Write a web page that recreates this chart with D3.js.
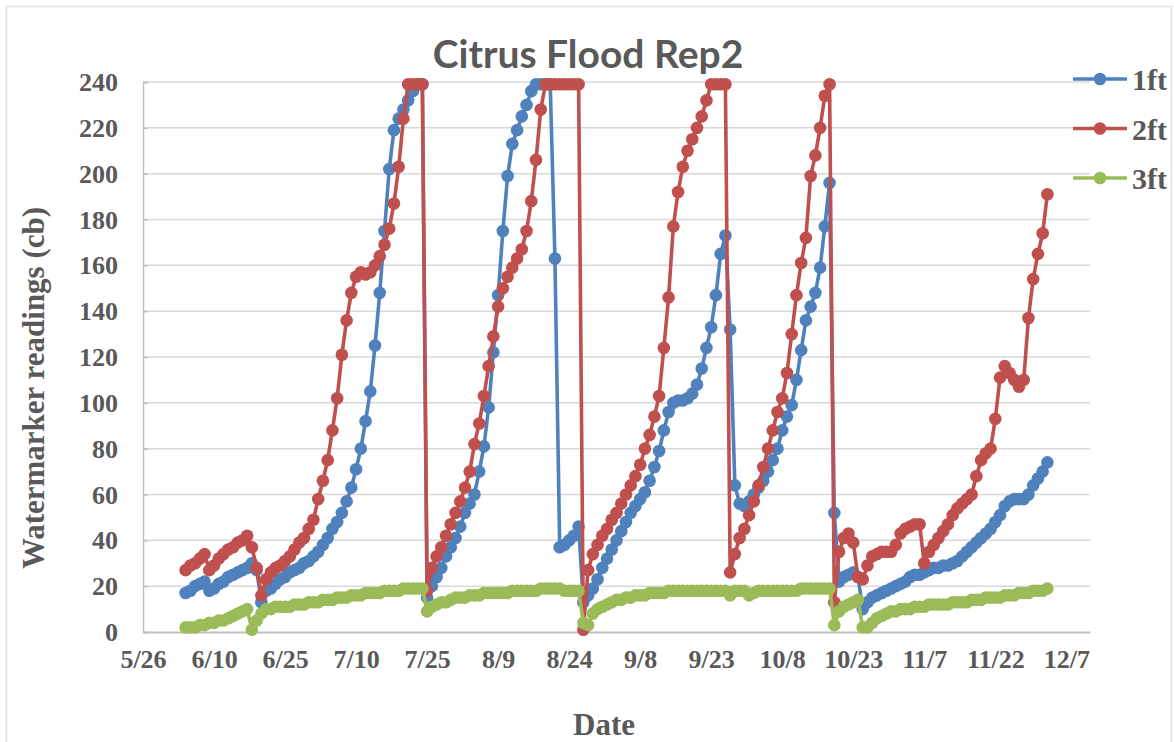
<!DOCTYPE html>
<html>
<head>
<meta charset="utf-8">
<script src="https://cdn.jsdelivr.net/npm/d3@7"></script>
<style>
  body { margin: 0; padding: 0; background: white; }
</style>
</head>
<body>
<div id="myVis"></div>
<script>
const width = 1174;
const height = 742;

// readings are daily, first reading on 6/4
const firstDay = new Date(2019, 5, 4);
const axisStart = new Date(2019, 4, 26);
const axisEnd = new Date(2019, 11, 12);
const seriesNames = ["1ft", "2ft", "3ft"];
const seriesColors = ["#4f81bd", "#c0504d", "#9bbb59"];
const yTicks = [0, 20, 40, 60, 80, 100, 120, 140, 160, 180, 200, 220, 240];

const ft1 = [
  17, 18, 20, 21, 22, 18, 19, 21, 22, 24,
  25, 26, 27, 28, 30, 27, 13, 18, 19, 21,
  23, 24, 26, 27, 28, 30, 31, 33, 35, 38,
  41, 45, 48, 52, 57, 63, 71, 80, 92, 105,
  125, 148, 175, 202, 219, 224, 228, 232, 236, 239,
  239, 15, 20, 24, 28, 33, 37, 41, 46, 52,
  56, 60, 70, 81, 98, 122, 147, 175, 199, 213,
  219, 225, 230, 236, 239, 239, 239, 239, 163, 37,
  38, 40, 42, 46, 13, 16, 19, 23, 28, 32,
  36, 40, 44, 48, 52, 55, 58, 61, 66, 72,
  79, 88, 96, 100, 101, 101, 102, 104, 108, 115,
  124, 133, 147, 165, 173, 132, 64, 56, 55, 57,
  60, 63, 66, 70, 75, 80, 88, 94, 99, 110,
  123, 136, 142, 148, 159, 177, 196, 52, 22, 24,
  25, 26, 24, 10, 13, 15, 16, 17, 18, 19,
  20, 21, 22, 24, 25, 25, 26, 27, 28, 28,
  29, 29, 30, 31, 33, 35, 37, 39, 41, 43,
  45, 48, 51, 55, 57, 58, 58, 58, 60, 64,
  67, 70, 74
];

const ft2 = [
  27, 29, 30, 32, 34, 27, 29, 32, 34, 36,
  37, 39, 40, 42, 37, 28, 16, 23, 26, 28,
  29, 31, 33, 36, 39, 41, 45, 49, 58, 66,
  75, 88, 102, 121, 136, 148, 155, 157, 156, 157,
  160, 164, 169, 176, 187, 203, 224, 239, 239, 239,
  239, 18, 28, 33, 37, 42, 47, 52, 57, 63,
  70, 82, 91, 103, 116, 129, 142, 150, 155, 159,
  163, 167, 175, 188, 206, 228, 239, 239, 239, 239,
  239, 239, 239, 239, 1, 27, 34, 38, 42, 45,
  49, 52, 56, 60, 64, 68, 73, 80, 86, 94,
  103, 124, 146, 177, 192, 203, 210, 215, 220, 225,
  232, 239, 239, 239, 239, 26, 34, 41, 45, 51,
  57, 64, 72, 80, 88, 96, 102, 113, 130, 147,
  161, 172, 199, 208, 220, 234, 239, 13, 35, 41,
  43, 39, 24, 23, 29, 33, 34, 35, 35, 35,
  38, 43, 45, 46, 47, 47, 30, 35, 38, 41,
  44, 47, 51, 54, 56, 58, 60, 68, 75, 78,
  80, 93, 111, 116, 113, 110, 107, 110, 137, 154,
  165, 174, 191
];

const ft3 = [
  2, 2, 2, 3, 3, 4, 4, 5, 5, 6,
  7, 8, 9, 10, 1, 5, 8, 10, 10, 11,
  11, 11, 11, 12, 12, 12, 13, 13, 13, 14,
  14, 14, 15, 15, 15, 16, 16, 16, 17, 17,
  17, 17, 18, 18, 18, 18, 19, 19, 19, 19,
  19, 9, 11, 12, 13, 13, 14, 15, 15, 15,
  16, 16, 16, 17, 17, 17, 17, 17, 17, 18,
  18, 18, 18, 18, 18, 19, 19, 19, 19, 19,
  18, 18, 18, 18, 4, 3, 8, 10, 11, 12,
  13, 14, 14, 15, 15, 16, 16, 16, 17, 17,
  17, 17, 18, 18, 18, 18, 18, 18, 18, 18,
  18, 18, 18, 18, 18, 16, 18, 18, 18, 16,
  17, 18, 18, 18, 18, 18, 18, 18, 18, 18,
  19, 19, 19, 19, 19, 19, 19, 3, 9, 11,
  12, 13, 14, 2, 2, 4, 6, 7, 8, 9,
  9, 10, 10, 10, 11, 11, 11, 12, 12, 12,
  12, 12, 13, 13, 13, 13, 14, 14, 14, 15,
  15, 15, 15, 16, 16, 16, 17, 17, 17, 18,
  18, 18, 19
];

const allSeries = [ft1, ft2, ft3];

const margin = { left: 143, right: 1090, top: 82, bottom: 632 };
const serif = "'Liberation Serif', 'Times New Roman', serif";
const markerRadius = 6.3;
const lineWidth = 3.6;

const svg = d3
  .select("#myVis")
  .append("svg")
  .attr("width", width)
  .attr("height", height)
  .style("background-color", "white");

// chart border
svg.append("rect")
  .attr("x", 6.5)
  .attr("y", 6.5)
  .attr("width", width - 9)
  .attr("height", height + 10)
  .attr("fill", "none")
  .attr("stroke", "#e3e3dc")
  .attr("stroke-width", 1.5);

const x = d3.scaleTime()
  .domain([axisStart, axisEnd])
  .range([margin.left, margin.right]);

const y = d3.scaleLinear()
  .domain([0, 240])
  .range([margin.bottom, margin.top]);

// gridlines
svg.append("g")
  .selectAll("line")
  .data(yTicks.filter(d => d > 0))
  .enter()
  .append("line")
  .attr("x1", margin.left)
  .attr("x2", margin.right)
  .attr("y1", d => y(d))
  .attr("y2", d => y(d))
  .attr("stroke", "#d9d9d9")
  .attr("stroke-width", 1.5);

// y axis, ticks point inward like the original
const yAxis = svg.append("g")
  .attr("transform", `translate(${margin.left},0)`)
  .call(d3.axisRight(y).tickValues(yTicks).tickSize(5).tickFormat(""));
yAxis.select(".domain").attr("stroke", "#bfbfbf").attr("stroke-width", 1.5);
yAxis.selectAll(".tick line").attr("stroke", "#bfbfbf").attr("stroke-width", 1.5);

svg.append("g")
  .selectAll("text")
  .data(yTicks)
  .enter()
  .append("text")
  .attr("x", 118)
  .attr("y", d => y(d))
  .attr("dy", "0.35em")
  .attr("text-anchor", "end")
  .style("font-family", serif)
  .style("font-weight", "bold")
  .style("font-size", "26px")
  .style("fill", "#595959")
  .text(d => d);

// x axis, every 15 days from 5/26
const xTicks = d3.range(0, 196, 15).map(k => d3.timeDay.offset(axisStart, k));
const xAxis = svg.append("g")
  .attr("transform", `translate(0,${margin.bottom})`)
  .call(d3.axisBottom(x).tickValues(xTicks).tickSize(0).tickFormat(d3.timeFormat("%-m/%-d")));
xAxis.select(".domain").attr("stroke", "#bfbfbf").attr("stroke-width", 2);
xAxis.selectAll("text")
  .attr("y", 36)
  .attr("dy", 0)
  .style("font-family", serif)
  .style("font-weight", "bold")
  .style("font-size", "26px")
  .style("fill", "#595959");

// series lines and markers
allSeries.forEach(function (values, i) {
  const points = values.map((v, k) => ({ date: d3.timeDay.offset(firstDay, k), value: v }));

  const line = d3.line()
    .x(d => x(d.date))
    .y(d => y(d.value));

  svg.append("path")
    .datum(points)
    .attr("d", line)
    .attr("fill", "none")
    .attr("stroke", seriesColors[i])
    .attr("stroke-width", lineWidth)
    .attr("stroke-linejoin", "round");

  svg.append("g")
    .selectAll("circle")
    .data(points)
    .enter()
    .append("circle")
    .attr("cx", d => x(d.date))
    .attr("cy", d => y(d.value))
    .attr("r", markerRadius)
    .style("fill", seriesColors[i]);
});

// legend
const legend = svg.append("g");
seriesNames.forEach(function (name, i) {
  const ly = 79 + i * 49.5;
  legend.append("line")
    .attr("x1", 1073)
    .attr("x2", 1127)
    .attr("y1", ly)
    .attr("y2", ly)
    .attr("stroke", seriesColors[i])
    .attr("stroke-width", lineWidth);
  legend.append("circle")
    .attr("cx", 1100)
    .attr("cy", ly)
    .attr("r", markerRadius)
    .style("fill", seriesColors[i]);
  legend.append("text")
    .attr("x", 1132)
    .attr("y", ly + 11)
    .style("font-family", serif)
    .style("font-weight", "bold")
    .style("font-size", "30px")
    .style("fill", "#595959")
    .text(name);
});

// titles
svg.append("text")
  .attr("x", 588)
  .attr("y", 68)
  .attr("text-anchor", "middle")
  .style("font-family", "Lato, 'Open Sans', sans-serif")
  .style("font-weight", "bold")
  .style("font-size", "39px")
  .style("fill", "#595959")
  .text("Citrus Flood Rep2");

svg.append("text")
  .attr("transform", "translate(44,388) rotate(-90)")
  .attr("text-anchor", "middle")
  .style("font-family", serif)
  .style("font-weight", "bold")
  .style("font-size", "31px")
  .style("fill", "#595959")
  .text("Watermarker readings (cb)");

svg.append("text")
  .attr("x", 604)
  .attr("y", 735)
  .attr("text-anchor", "middle")
  .style("font-family", serif)
  .style("font-weight", "bold")
  .style("font-size", "31px")
  .style("fill", "#595959")
  .text("Date");
</script>
</body>
</html>
